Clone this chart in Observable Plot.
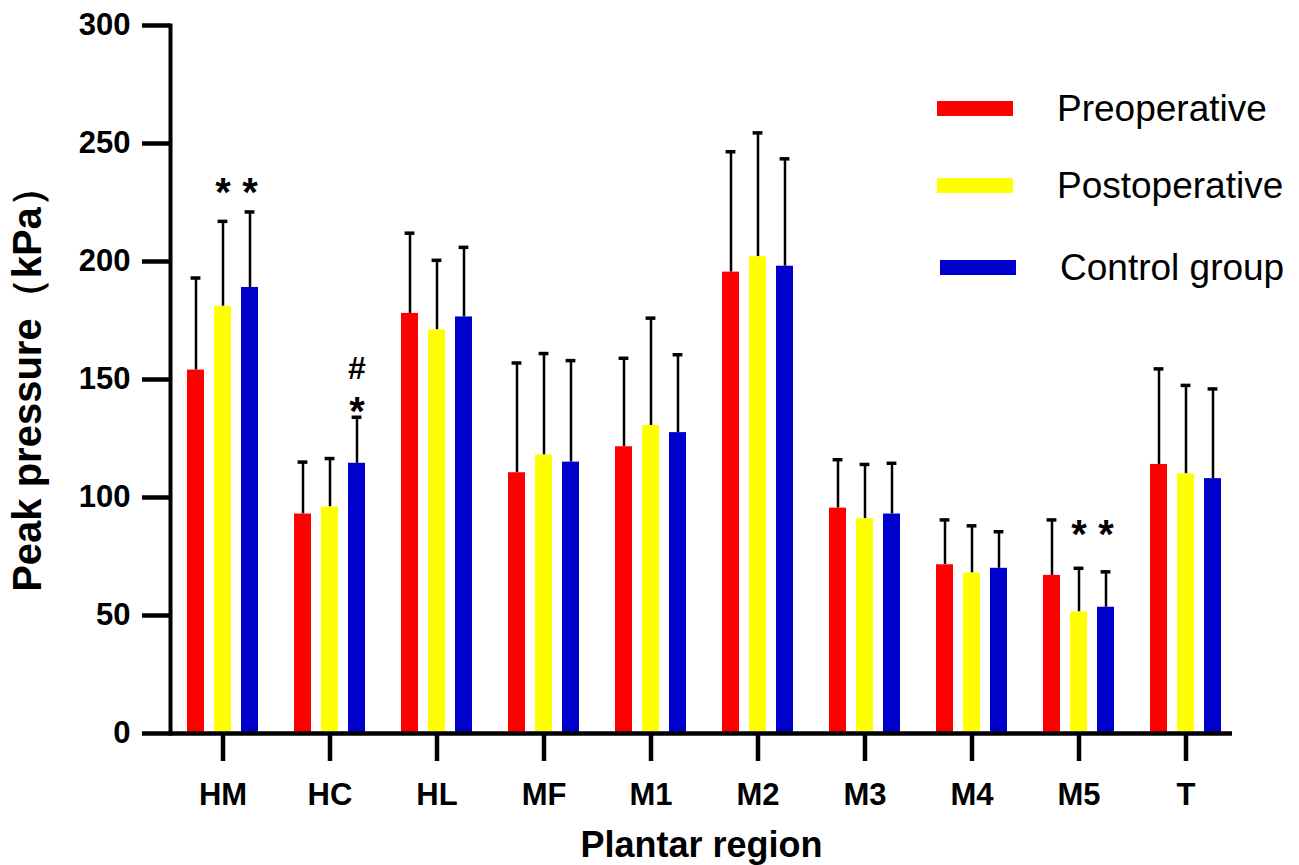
<!DOCTYPE html>
<html>
<head>
<meta charset="utf-8">
<script src="https://cdn.jsdelivr.net/npm/d3@7"></script>
<script src="https://cdn.jsdelivr.net/npm/@observablehq/plot@0.6"></script>
<style>
  body { margin: 0; background: #fff; }
  #wrap { position: relative; width: 1299px; height: 865px; overflow: hidden; font-family: "Liberation Sans", Arial, sans-serif; color: #000; }
  #chart { position: absolute; left: 0; top: 0; }
  .lg-item { position: absolute; display: flex; align-items: center; height: 40px; }
  .lg-sw { width: 76px; height: 15px; }
  .lg-tx { position: absolute; left: 120px; font-size: 37px; line-height: 1; white-space: nowrap; }
</style>
</head>
<body>
<div id="wrap"><div id="chart"></div><div id="legend"></div></div>
<script>
// ---- data ----
const regions = ["HM", "HC", "HL", "MF", "M1", "M2", "M3", "M4", "M5", "T"];
const seriesNames = ["Preoperative", "Postoperative", "Control group"];
const seriesColors = ["#ff0000", "#ffff00", "#0000cc"];

const preMean  = [154, 93, 178, 110.5, 121.5, 195.5, 95.5, 71.5, 67, 114];
const preSD    = [39, 22, 34, 46.5, 37.5, 51, 20.5, 19, 23.5, 40.5];
const postMean = [181, 96, 171, 118, 130.5, 202, 91, 68, 51.5, 110];
const postSD   = [36, 20.5, 29.5, 43, 45.5, 52.5, 23, 20, 18.5, 37.5];
const ctrlMean = [189, 114.5, 176.5, 115, 127.5, 198, 93, 70, 53.5, 108];
const ctrlSD   = [32, 19.5, 29.5, 43, 33, 45.5, 21.5, 15.5, 15, 38];

const yTicks = [0, 50, 100, 150, 200, 250, 300];

const annRegion = ["HM", "HM", "HC", "HC", "M5", "M5"];
const annSeries = ["Postoperative", "Control group", "Control group", "Control group", "Postoperative", "Control group"];
const annText   = ["*", "*", "#", "*", "*", "*"];
const annValue  = [229, 229, 154.7, 136, 84, 84];

const yTitle = "Peak pressure（kPa）";
const xTitle = "Plantar region";

// ---- build tables ----
const means = [preMean, postMean, ctrlMean];
const sds = [preSD, postSD, ctrlSD];
const barOffset = [-27, 0, 27];

const rowsBySeries = seriesNames.map((s, i) =>
  regions.map((r, j) => ({ region: r, series: s, mean: means[i][j], upper: means[i][j] + sds[i][j] }))
);
const annotations = annRegion.map((r, k) => ({ region: r, series: annSeries[k], text: annText[k], value: annValue[k] }));

const FONT = "Liberation Sans, Arial, sans-serif";
const marks = [];

seriesNames.forEach((s, i) => {
  const rows = rowsBySeries[i];
  marks.push(Plot.ruleX(rows, { x: "region", y1: "mean", y2: "upper", dx: barOffset[i], stroke: "#000", strokeWidth: 2.5 }));
  marks.push(Plot.barY(rows, { x: "region", y: "mean", fill: seriesColors[i], insetLeft: 45, insetRight: 45, dx: barOffset[i] }));
  marks.push(Plot.tickY(rows, { x: "region", y: "upper", dx: barOffset[i], stroke: "#000", strokeWidth: 3.5, insetLeft: 48.6, insetRight: 48.6 }));
});

seriesNames.forEach((s, i) => {
  const a = annotations.filter(d => d.series === s);
  if (a.length) marks.push(Plot.text(a, {
    x: "region", y: "value", text: "text", dx: barOffset[i],
    fontSize: d => d.text === "*" ? 40 : 32, fontWeight: "bold", fill: "#000"
  }));
});

// axes
marks.push(Plot.axisY({ ticks: yTicks, tickSize: 28, tickPadding: 12, tickFormat: d => String(d), fontSize: 31, fontWeight: "bold", strokeWidth: 4.5, label: null }));
marks.push(Plot.axisY({ ticks: [], label: yTitle, labelAnchor: "center", labelOffset: 158, labelArrow: "none", fontSize: 40, fontWeight: "bold" }));
marks.push(Plot.axisX({ tickSize: 28, tickPadding: 21, fontSize: 31, fontWeight: "bold", strokeWidth: 4.5, label: null }));
marks.push(Plot.axisX({ ticks: [], label: xTitle, labelAnchor: "center", labelOffset: 123, labelArrow: "none", fontSize: 36, fontWeight: "bold" }));
marks.push(Plot.frame({ anchor: "left", strokeWidth: 4, stroke: "#000" }));
marks.push(Plot.ruleY([0], { stroke: "#000", strokeWidth: 4.5 }));

const chart = Plot.plot({
  width: 1299,
  height: 865,
  marginLeft: 170,
  marginRight: 67,
  marginTop: 25,
  marginBottom: 132,
  style: { fontFamily: FONT, color: "#000", background: "#fff", overflow: "visible" },
  x: { domain: regions, range: [168.4, 1240.4], padding: 0, label: null },
  y: { domain: [0, 300], label: null },
  marks
});
document.getElementById("chart").appendChild(chart);

// legend (HTML)
const legendTops = [88, 165, 247];
const legendLeft = [937, 937, 940];
const legend = document.getElementById("legend");
seriesNames.forEach((s, i) => {
  const item = document.createElement("div");
  item.className = "lg-item";
  item.style.top = legendTops[i] + "px";
  item.style.left = legendLeft[i] + "px";
  const sw = document.createElement("div");
  sw.className = "lg-sw";
  sw.style.background = seriesColors[i];
  const tx = document.createElement("div");
  tx.className = "lg-tx";
  tx.textContent = s;
  item.appendChild(sw);
  item.appendChild(tx);
  legend.appendChild(item);
});
</script>
</body>
</html>
